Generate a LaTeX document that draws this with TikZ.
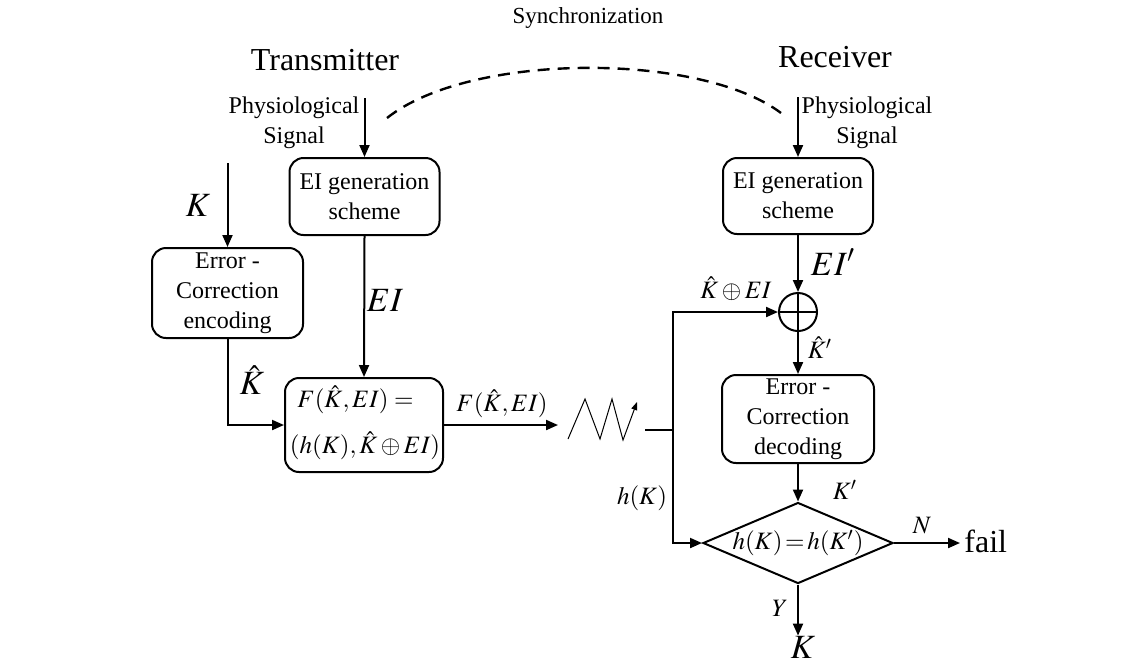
\documentclass[tikz,border=0pt]{standalone}
\usepackage{mathptmx}
\usepackage[no-math]{fontspec}
\setmainfont{Liberation Serif}
\usetikzlibrary{shapes,arrows.meta,positioning,calc}

\tikzset{
  block/.style={draw, line width=1pt, rounded corners=7pt, align=center, font=\fontsize{12}{15}\selectfont, inner sep=1pt},
  decision/.style={draw, line width=1pt, diamond, aspect=2.35, inner sep=0pt, minimum width=95pt, minimum height=40.5pt},
  sig/.style={font=\fontsize{12}{15}\selectfont, align=center, inner sep=0pt},
  biglbl/.style={font=\fontsize{17}{20}\selectfont, inner sep=0pt},
  lbl/.style={font=\fontsize{12.5}{15}\selectfont, inner sep=0pt},
  flow/.style={draw, line width=1pt, ->},
}

\begin{document}
\begin{tikzpicture}[x=0.5pt, y=-0.5pt, >={Triangle[length=6pt,width=5pt]}]
        \useasboundingbox (0,0) rectangle (1143,666);

        % titles
        \node[font=\fontsize{11.5}{14}\selectfont] (sync) at (588,18) {Synchronization};
        \node[font=\fontsize{16}{19}\selectfont] (tx) at (325,60) {Transmitter};
        \node[font=\fontsize{16}{19}\selectfont] (rx) at (835,57) {Receiver};
        \coordinate (synca) at (387,118);
        \coordinate (syncb) at (781,113);
        \draw[line width=1.2pt, dash pattern=on 6pt off 4pt] (synca) .. controls (470,52) and (700,52) .. (syncb);

        % transmitter
        \node[block, minimum width=75pt, minimum height=38.5pt] (txgen) at (364.5,196.5) {EI generation\\scheme};
        \node[sig] (txphys) at (294,123) {Physiological\\Signal};
        \coordinate (txin) at (364.5,98);
        \draw[flow] (txin) -- (txgen.north);

        \node[block, minimum width=75.5pt, minimum height=45pt] (enc) at (227.5,293) {Error -\\Correction\\encoding};
        \coordinate (kin) at (227.5,163);
        \draw[flow] (kin) -- (enc.north);
        \node[biglbl] (klbl) at (198,205) {$K$};

        \node[block, minimum width=79pt, minimum height=47pt] (fbox) at (364,425) {};
        \node[lbl, anchor=west] (fline1) at (297,400) {$F(\hat K,EI)=$};
        \node[lbl] (fline2) at (365,446) {$(h(K),\hat K\oplus EI)$};
        \draw[flow] (enc.south) |- (fbox.west);
        \node[biglbl] (khat) at (252,380) {$\hat K$};
        \draw[flow] (txgen.south) -- (fbox.north);
        \node[biglbl] (eilbl) at (385,300) {$EI$};

        % channel
        \coordinate (chin) at (558,425);
        \draw[flow] (fbox.east) -- (chin);
        \node[lbl] (flbl) at (502,404) {$F(\hat K,EI)$};
        \draw[line width=0.5pt, -{Triangle[length=4pt,width=3pt]}] (568,439) -- (585,399) -- (600,439) -- (612,399) -- (623,440) -- (637,402);
        \coordinate (chout) at (645,430);
        \coordinate (split) at (673,430);

        % receiver
        \node[block, minimum width=75pt, minimum height=38pt] (rxgen) at (798,196) {EI generation\\scheme};
        \node[sig] (rxphys) at (867,123) {Physiological\\Signal};
        \coordinate (rxin) at (798,97);
        \draw[flow] (rxin) -- (rxgen.north);

        \node[draw, line width=1pt, circle, minimum size=19pt, inner sep=0pt] (xorop) at (798,312) {};
        \draw[line width=1pt] (xorop.north) -- (xorop.south) (xorop.west) -- (xorop.east);
        \draw[flow] (rxgen.south) -- (xorop.north);
        \node[biglbl] (eiplbl) at (833,262) {$EI'$};

        \node[block, minimum width=76pt, minimum height=44pt] (dec) at (798,419) {Error -\\Correction\\decoding};
        \draw[flow] (xorop.south) -- (dec.north);
        \node[lbl] (khatp) at (820,348) {$\hat K'$};

        \node[decision] (test) at (798,543) {};
        \node[lbl] (testlbl) at (test) {$h(K)\!=\!h(K')$};
        \draw[flow] (dec.south) -- (test.north);
        \node[lbl] (kplbl) at (845,490) {$K'$};

        \draw[line width=1pt] (chout) -- (split);
        \draw[flow] (split) |- (xorop.west);
        \draw[flow] (split) |- (test.west);
        \node[lbl] (xlbl) at (736,289) {$\hat K\oplus EI$};
        \node[lbl] (hlbl) at (642,498) {$h(K)$};

        \node[font=\fontsize{16}{19}\selectfont, anchor=west, inner sep=2pt] (fail) at (960,541) {fail};
        \draw[flow] (test.east) -- (test.east -| fail.west);
        \node[lbl] (nlbl) at (922,526) {$N$};

        \node[biglbl] (outk) at (803,647) {$K$};
        \draw[flow] (test.south) -- (test.south |- outk.north);
        \node[lbl] (ylbl) at (780,608) {$Y$};
\end{tikzpicture}
\end{document}
